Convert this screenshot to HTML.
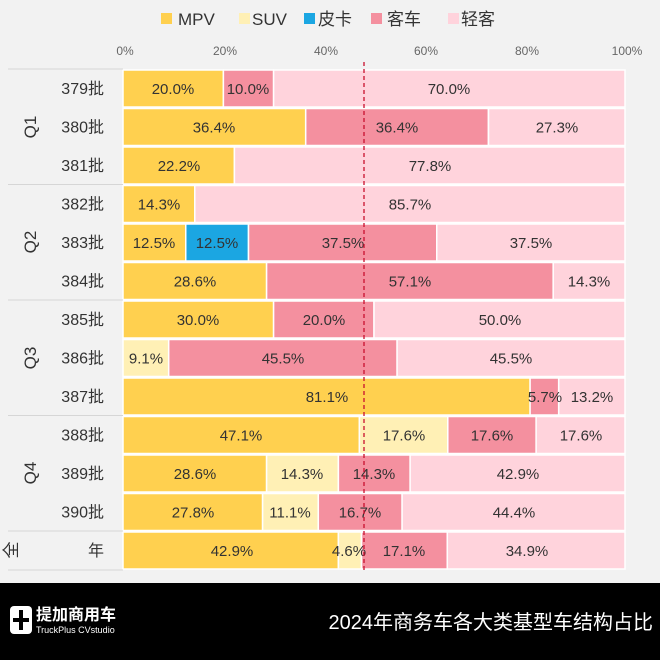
<!DOCTYPE html>
<html><head><meta charset="utf-8"><style>
html,body{margin:0;padding:0;background:#f2f2f2;}
svg{display:block;font-family:"Liberation Sans","Noto Sans CJK SC",sans-serif;}
.l{font-size:15px;fill:#333;text-anchor:middle;}
.r{font-size:16px;fill:#333;text-anchor:end;}
.t{font-size:12px;fill:#666;text-anchor:middle;}
</style></head><body>
<svg width="660" height="660" viewBox="0 0 660 660">
<rect width="660" height="660" fill="#f2f2f2"/>
<!-- legend -->
<g font-size="17" fill="#333">
<rect x="161" y="13" width="11" height="11" fill="#FFD04F"/><text x="178" y="25">MPV</text>
<rect x="239" y="13" width="11" height="11" fill="#FFF0B5"/><text x="252" y="25">SUV</text>
<rect x="304" y="13" width="11" height="11" fill="#1BA6E2"/><text x="318" y="25">皮卡</text>
<rect x="371" y="13" width="11" height="11" fill="#F4909F"/><text x="387" y="25">客车</text>
<rect x="448" y="13" width="11" height="11" fill="#FFD3DC"/><text x="461" y="25">轻客</text>
</g>
<g class="t">
<text x="125" y="55">0%</text><text x="225" y="55">20%</text><text x="326" y="55">40%</text>
<text x="426" y="55">60%</text><text x="527" y="55">80%</text><text x="627" y="55">100%</text>
</g>
<!-- bars -->
<g stroke="#fff" stroke-width="1.5">
<rect x="123" y="70" width="100.4" height="37" fill="#FFD04F"/><rect x="223.4" y="70" width="50.2" height="37" fill="#F4909F"/><rect x="273.6" y="70" width="351.4" height="37" fill="#FFD3DC"/>
<rect x="123" y="108.5" width="182.7" height="37" fill="#FFD04F"/><rect x="305.7" y="108.5" width="182.7" height="37" fill="#F4909F"/><rect x="488.5" y="108.5" width="136.5" height="37" fill="#FFD3DC"/>
<rect x="123" y="147" width="111.4" height="37" fill="#FFD04F"/><rect x="234.4" y="147" width="390.6" height="37" fill="#FFD3DC"/>
<rect x="123" y="185.5" width="71.8" height="37" fill="#FFD04F"/><rect x="194.8" y="185.5" width="430.2" height="37" fill="#FFD3DC"/>
<rect x="123" y="224" width="62.75" height="37" fill="#FFD04F"/><rect x="185.75" y="224" width="62.75" height="37" fill="#1BA6E2"/><rect x="248.5" y="224" width="188.25" height="37" fill="#F4909F"/><rect x="436.75" y="224" width="188.25" height="37" fill="#FFD3DC"/>
<rect x="123" y="262.5" width="143.6" height="37" fill="#FFD04F"/><rect x="266.6" y="262.5" width="286.6" height="37" fill="#F4909F"/><rect x="553.2" y="262.5" width="71.8" height="37" fill="#FFD3DC"/>
<rect x="123" y="301" width="150.6" height="37" fill="#FFD04F"/><rect x="273.6" y="301" width="100.4" height="37" fill="#F4909F"/><rect x="374" y="301" width="251" height="37" fill="#FFD3DC"/>
<rect x="123" y="339.5" width="45.7" height="37" fill="#FFF0B5"/><rect x="168.7" y="339.5" width="228.4" height="37" fill="#F4909F"/><rect x="397.1" y="339.5" width="227.9" height="37" fill="#FFD3DC"/>
<rect x="123" y="378" width="407.1" height="37" fill="#FFD04F"/><rect x="530.1" y="378" width="28.6" height="37" fill="#F4909F"/><rect x="558.7" y="378" width="66.3" height="37" fill="#FFD3DC"/>
<rect x="123" y="416.5" width="236.4" height="37" fill="#FFD04F"/><rect x="359.4" y="416.5" width="88.4" height="37" fill="#FFF0B5"/><rect x="447.8" y="416.5" width="88.4" height="37" fill="#F4909F"/><rect x="536.1" y="416.5" width="88.9" height="37" fill="#FFD3DC"/>
<rect x="123" y="455" width="143.6" height="37" fill="#FFD04F"/><rect x="266.6" y="455" width="71.8" height="37" fill="#FFF0B5"/><rect x="338.4" y="455" width="71.8" height="37" fill="#F4909F"/><rect x="410.1" y="455" width="214.9" height="37" fill="#FFD3DC"/>
<rect x="123" y="493.5" width="139.6" height="37" fill="#FFD04F"/><rect x="262.6" y="493.5" width="55.7" height="37" fill="#FFF0B5"/><rect x="318.3" y="493.5" width="83.8" height="37" fill="#F4909F"/><rect x="402.1" y="493.5" width="222.9" height="37" fill="#FFD3DC"/>
<rect x="123" y="532" width="215.4" height="37" fill="#FFD04F"/><rect x="338.4" y="532" width="23.1" height="37" fill="#FFF0B5"/><rect x="361.5" y="532" width="85.8" height="37" fill="#F4909F"/><rect x="447.3" y="532" width="177.7" height="37" fill="#FFD3DC"/>
</g>
<!-- labels -->
<g class="l">
<text x="173" y="94">20.0%</text><text x="248" y="94">10.0%</text><text x="449" y="94">70.0%</text>
<text x="214" y="132.5">36.4%</text><text x="397" y="132.5">36.4%</text><text x="557" y="132.5">27.3%</text>
<text x="179" y="171">22.2%</text><text x="430" y="171">77.8%</text>
<text x="159" y="209.5">14.3%</text><text x="410" y="209.5">85.7%</text>
<text x="154" y="248">12.5%</text><text x="217" y="248">12.5%</text><text x="343" y="248">37.5%</text><text x="531" y="248">37.5%</text>
<text x="195" y="286.5">28.6%</text><text x="410" y="286.5">57.1%</text><text x="589" y="286.5">14.3%</text>
<text x="198" y="325">30.0%</text><text x="324" y="325">20.0%</text><text x="500" y="325">50.0%</text>
<text x="146" y="363.5">9.1%</text><text x="283" y="363.5">45.5%</text><text x="511" y="363.5">45.5%</text>
<text x="327" y="402">81.1%</text><text x="545" y="402">5.7%</text><text x="592" y="402">13.2%</text>
<text x="241" y="440.5">47.1%</text><text x="404" y="440.5">17.6%</text><text x="492" y="440.5">17.6%</text><text x="581" y="440.5">17.6%</text>
<text x="195" y="479">28.6%</text><text x="302" y="479">14.3%</text><text x="374" y="479">14.3%</text><text x="518" y="479">42.9%</text>
<text x="193" y="517.5">27.8%</text><text x="290" y="517.5">11.1%</text><text x="360" y="517.5">16.7%</text><text x="514" y="517.5">44.4%</text>
<text x="232" y="556">42.9%</text><text x="349" y="556">4.6%</text><text x="404" y="556">17.1%</text><text x="527" y="556">34.9%</text>
</g>
<!-- dashed line -->
<line x1="364" y1="62" x2="364" y2="572" stroke="#C8102E" stroke-width="1.3" stroke-dasharray="4,3"/>
<!-- left axis -->
<g stroke="#d6d6d6" stroke-width="1">
<line x1="8" y1="69" x2="123" y2="69"/><line x1="8" y1="184.5" x2="123" y2="184.5"/><line x1="8" y1="300" x2="123" y2="300"/>
<line x1="8" y1="415.5" x2="123" y2="415.5"/><line x1="8" y1="531" x2="123" y2="531"/><line x1="8" y1="570" x2="123" y2="570"/>
</g>
<g class="r">
<text x="104" y="94">379批</text><text x="104" y="132.5">380批</text><text x="104" y="171">381批</text>
<text x="104" y="209.5">382批</text><text x="104" y="248">383批</text><text x="104" y="286.5">384批</text>
<text x="104" y="325">385批</text><text x="104" y="363.5">386批</text><text x="104" y="402">387批</text>
<text x="104" y="440.5">388批</text><text x="104" y="479">389批</text><text x="104" y="517.5">390批</text>
<text x="104" y="556">年</text>
</g>
<g font-size="17" fill="#333" text-anchor="middle">
<text transform="translate(36,127) rotate(-90)">Q1</text>
<text transform="translate(36,242) rotate(-90)">Q2</text>
<text transform="translate(36,358) rotate(-90)">Q3</text>
<text transform="translate(36,473) rotate(-90)">Q4</text>
<text transform="translate(17,550) rotate(-90)">全</text>
</g>
<!-- footer -->
<rect x="0" y="583" width="660" height="77" fill="#000"/>
<rect x="10" y="606" width="22" height="28" rx="4" fill="#fff"/>
<rect x="19" y="610" width="4" height="20" fill="#000"/><rect x="13" y="618" width="16" height="4" fill="#000"/>
<text x="36" y="620" font-size="16" font-weight="bold" fill="#fff">提加商用车</text>
<text x="36" y="633" font-size="9" fill="#fff">TruckPlus CVstudio</text>
<text x="653" y="629" font-size="20" fill="#fff" text-anchor="end">2024年商务车各大类基型车结构占比</text>
</svg>
</body></html>
